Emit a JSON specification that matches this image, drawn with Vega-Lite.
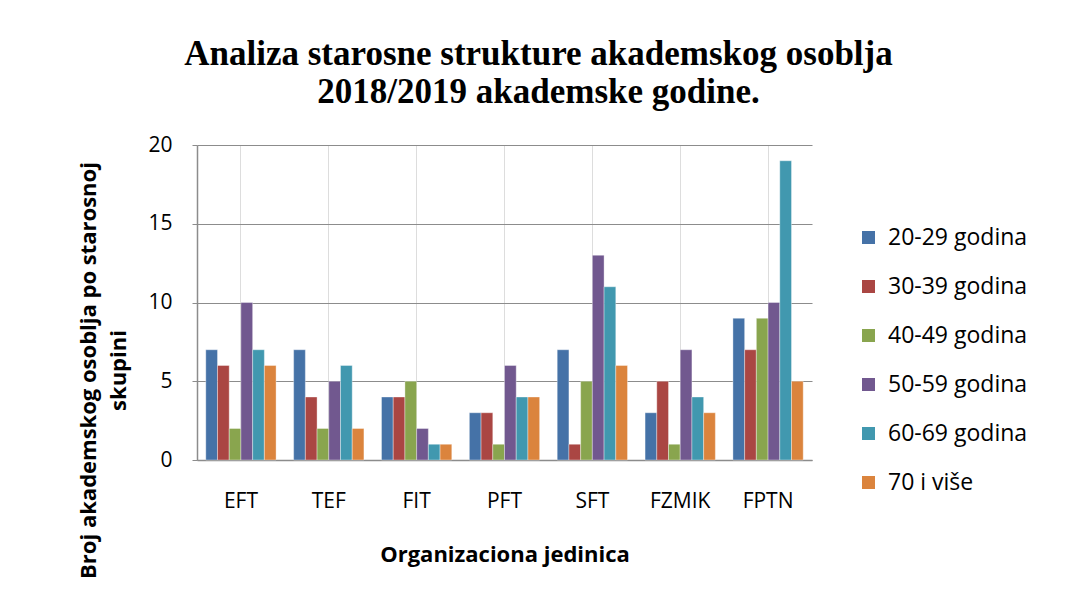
{
  "$schema": "https://vega.github.io/schema/vega-lite/v6.json",
  "width": 615,
  "height": 315,
  "autosize": {"type": "none"},
  "padding": {"left": 197, "top": 145, "right": 255, "bottom": 139},
  "background": "white",
  "title": {
    "text": ["Analiza starosne strukture akademskog osoblja", "2018/2019 akademske godine."],
    "font": "Liberation Serif",
    "fontSize": 35,
    "fontWeight": "bold",
    "color": "black",
    "anchor": "middle",
    "frame": "group",
    "dx": 34,
    "offset": 24,
    "lineHeight": 38
  },
  "data": {
    "values": [
      {"jedinica": "EFT", "grupa": "20-29 godina", "broj": 7},
      {"jedinica": "EFT", "grupa": "30-39 godina", "broj": 6},
      {"jedinica": "EFT", "grupa": "40-49 godina", "broj": 2},
      {"jedinica": "EFT", "grupa": "50-59 godina", "broj": 10},
      {"jedinica": "EFT", "grupa": "60-69 godina", "broj": 7},
      {"jedinica": "EFT", "grupa": "70 i više", "broj": 6},
      {"jedinica": "TEF", "grupa": "20-29 godina", "broj": 7},
      {"jedinica": "TEF", "grupa": "30-39 godina", "broj": 4},
      {"jedinica": "TEF", "grupa": "40-49 godina", "broj": 2},
      {"jedinica": "TEF", "grupa": "50-59 godina", "broj": 5},
      {"jedinica": "TEF", "grupa": "60-69 godina", "broj": 6},
      {"jedinica": "TEF", "grupa": "70 i više", "broj": 2},
      {"jedinica": "FIT", "grupa": "20-29 godina", "broj": 4},
      {"jedinica": "FIT", "grupa": "30-39 godina", "broj": 4},
      {"jedinica": "FIT", "grupa": "40-49 godina", "broj": 5},
      {"jedinica": "FIT", "grupa": "50-59 godina", "broj": 2},
      {"jedinica": "FIT", "grupa": "60-69 godina", "broj": 1},
      {"jedinica": "FIT", "grupa": "70 i više", "broj": 1},
      {"jedinica": "PFT", "grupa": "20-29 godina", "broj": 3},
      {"jedinica": "PFT", "grupa": "30-39 godina", "broj": 3},
      {"jedinica": "PFT", "grupa": "40-49 godina", "broj": 1},
      {"jedinica": "PFT", "grupa": "50-59 godina", "broj": 6},
      {"jedinica": "PFT", "grupa": "60-69 godina", "broj": 4},
      {"jedinica": "PFT", "grupa": "70 i više", "broj": 4},
      {"jedinica": "SFT", "grupa": "20-29 godina", "broj": 7},
      {"jedinica": "SFT", "grupa": "30-39 godina", "broj": 1},
      {"jedinica": "SFT", "grupa": "40-49 godina", "broj": 5},
      {"jedinica": "SFT", "grupa": "50-59 godina", "broj": 13},
      {"jedinica": "SFT", "grupa": "60-69 godina", "broj": 11},
      {"jedinica": "SFT", "grupa": "70 i više", "broj": 6},
      {"jedinica": "FZMIK", "grupa": "20-29 godina", "broj": 3},
      {"jedinica": "FZMIK", "grupa": "30-39 godina", "broj": 5},
      {"jedinica": "FZMIK", "grupa": "40-49 godina", "broj": 1},
      {"jedinica": "FZMIK", "grupa": "50-59 godina", "broj": 7},
      {"jedinica": "FZMIK", "grupa": "60-69 godina", "broj": 4},
      {"jedinica": "FZMIK", "grupa": "70 i više", "broj": 3},
      {"jedinica": "FPTN", "grupa": "20-29 godina", "broj": 9},
      {"jedinica": "FPTN", "grupa": "30-39 godina", "broj": 7},
      {"jedinica": "FPTN", "grupa": "40-49 godina", "broj": 9},
      {"jedinica": "FPTN", "grupa": "50-59 godina", "broj": 10},
      {"jedinica": "FPTN", "grupa": "60-69 godina", "broj": 19},
      {"jedinica": "FPTN", "grupa": "70 i više", "broj": 5}
    ]
  },
  "mark": {"type": "bar", "stroke": "white", "strokeWidth": 0.6, "strokeOpacity": 0.6},
  "encoding": {
    "x": {
      "field": "jedinica",
      "type": "nominal",
      "sort": ["EFT", "TEF", "FIT", "PFT", "SFT", "FZMIK", "FPTN"],
      "scale": {"paddingInner": 0.2, "paddingOuter": 0.1},
      "axis": {
        "title": "Organizaciona jedinica",
        "labelAngle": 0,
        "labelFont": "Open Sans",
        "labelFontSize": 21,
        "labelColor": "black",
        "labelPadding": 30,
        "ticks": false,
        "domainColor": "#8c8c8c",
        "domainWidth": 1.5,
        "titleFont": "Open Sans",
        "titleFontSize": 22,
        "titleFontWeight": "bold",
        "titleColor": "black",
        "titlePadding": 33
      }
    },
    "xOffset": {
      "field": "grupa",
      "type": "nominal",
      "sort": ["20-29 godina", "30-39 godina", "40-49 godina", "50-59 godina", "60-69 godina", "70 i više"]
    },
    "y": {
      "field": "broj",
      "type": "quantitative",
      "scale": {"domain": [0, 20], "nice": false},
      "axis": {
        "values": [0, 5, 10, 15, 20],
        "title": ["Broj akademskog osoblja po starosnoj", "skupini"],
        "labelFont": "Open Sans",
        "labelFontSize": 21,
        "labelColor": "black",
        "labelPadding": 20,
        "tickSize": 5,
        "tickColor": "#8c8c8c",
        "domainColor": "#8c8c8c",
        "domainWidth": 1.5,
        "gridColor": "#8c8c8c",
        "gridWidth": 1.2,
        "titleFont": "Open Sans",
        "titleFontSize": 22,
        "titleFontWeight": "bold",
        "titleColor": "black",
        "titleX": -109,
        "titleY": 225,
        "titleBaseline": "middle",
        "titleAlign": "center",
        "titleLineHeight": 30
      }
    },
    "color": {
      "field": "grupa",
      "type": "nominal",
      "sort": ["20-29 godina", "30-39 godina", "40-49 godina", "50-59 godina", "60-69 godina", "70 i više"],
      "scale": {
        "domain": ["20-29 godina", "30-39 godina", "40-49 godina", "50-59 godina", "60-69 godina", "70 i više"],
        "range": ["#4572A7", "#AA4643", "#89A54E", "#71588F", "#4198AF", "#DB843D"]
      },
      "legend": {
        "title": null,
        "orient": "none",
        "legendX": 660,
        "legendY": 81,
        "symbolType": "square",
        "symbolSize": 169,
        "symbolStrokeWidth": 0,
        "symbolOpacity": 1,
        "labelFont": "Open Sans",
        "labelFontSize": 23,
        "labelColor": "black",
        "labelOffset": 8,
        "rowPadding": 25
      }
    }
  },
  "config": {
    "view": {"stroke": null},
    "axis": {"grid": true}
  }
}
